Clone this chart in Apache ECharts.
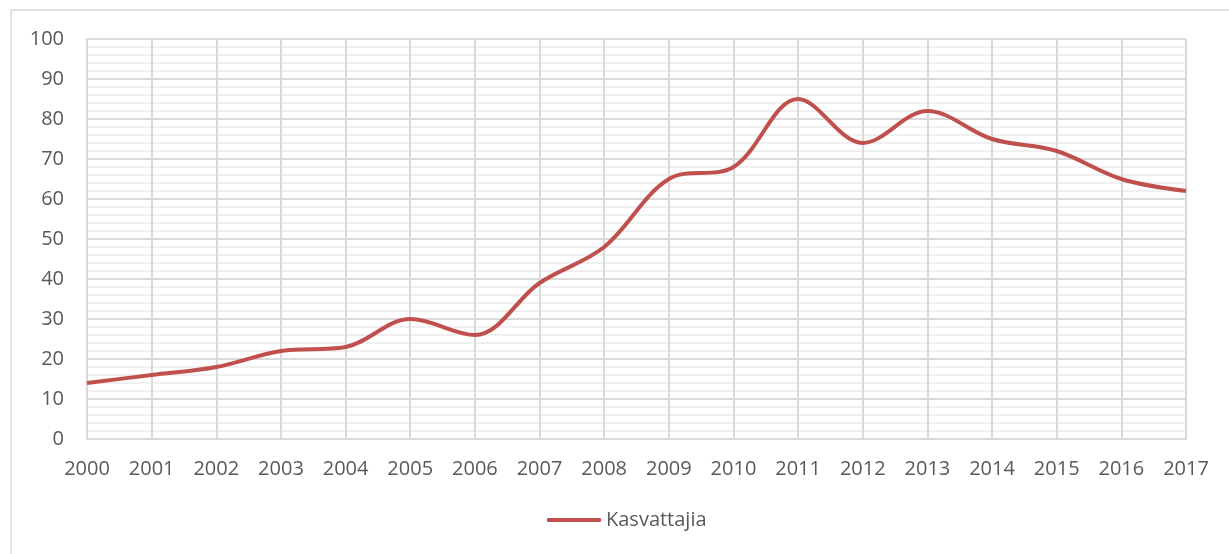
<!DOCTYPE html>
<html>
<head>
<meta charset="utf-8">
<script src="https://cdn.jsdelivr.net/npm/echarts@6/dist/echarts.min.js"></script>
<style>
html,body{margin:0;padding:0;background:#fff;}
#chart{width:1229px;height:554px;}
</style>
</head>
<body>
<div id="chart"></div>
<script>
const years = ['2000','2001','2002','2003','2004','2005','2006','2007','2008','2009','2010','2011','2012','2013','2014','2015','2016','2017'];
const kasvattajia = [14, 16, 18, 22, 23, 30, 26, 39, 48, 65, 68, 85, 74, 82, 75, 72, 65, 62];
const seriesName = 'Kasvattajia';

const font = '"Open Sans", "Liberation Sans", sans-serif';
const chart = echarts.init(document.getElementById('chart'), null, {renderer: 'canvas'});
chart.setOption({
  animation: false,
  backgroundColor: '#ffffff',
  graphic: [{
    type: 'rect',
    shape: {x: 11, y: 10, width: 1400, height: 800},
    style: {fill: 'none', stroke: '#d9d9d9', lineWidth: 1.5},
    silent: true
  }],
  grid: {left: 87, right: 43, top: 39, bottom: 115, containLabel: false},
  legend: {
    data: [seriesName],
    left: 547,
    top: 510,
    padding: 0,
    icon: 'roundRect',
    itemWidth: 54,
    itemHeight: 4,
    itemGap: 10,
    textStyle: {fontFamily: font, fontSize: 20, color: '#595959'}
  },
  xAxis: {
    type: 'category',
    data: years,
    boundaryGap: false,
    axisLine: {show: true, lineStyle: {color: '#d9d9d9', width: 2}},
    axisTick: {show: false},
    splitLine: {show: true, lineStyle: {color: '#d9d9d9', width: 2}},
    axisLabel: {fontFamily: font, fontSize: 20, color: '#595959', margin: 20, interval: 0}
  },
  yAxis: {
    type: 'value',
    min: 0,
    max: 100,
    interval: 10,
    axisLine: {show: true, lineStyle: {color: '#d9d9d9', width: 2}},
    axisTick: {show: false},
    splitLine: {show: true, lineStyle: {color: '#d9d9d9', width: 2}},
    minorTick: {show: false, splitNumber: 5},
    minorSplitLine: {show: true, lineStyle: {color: '#f0f0f0', width: 2}},
    axisLabel: {fontFamily: font, fontSize: 20, color: '#595959', margin: 23}
  },
  series: [{
    name: seriesName,
    type: 'line',
    data: kasvattajia,
    smooth: 0.35,
    showSymbol: false,
    symbol: 'none',
    lineStyle: {color: '#c0504d', width: 4},
    itemStyle: {color: '#c0504d'}
  }]
});
</script>
</body>
</html>
